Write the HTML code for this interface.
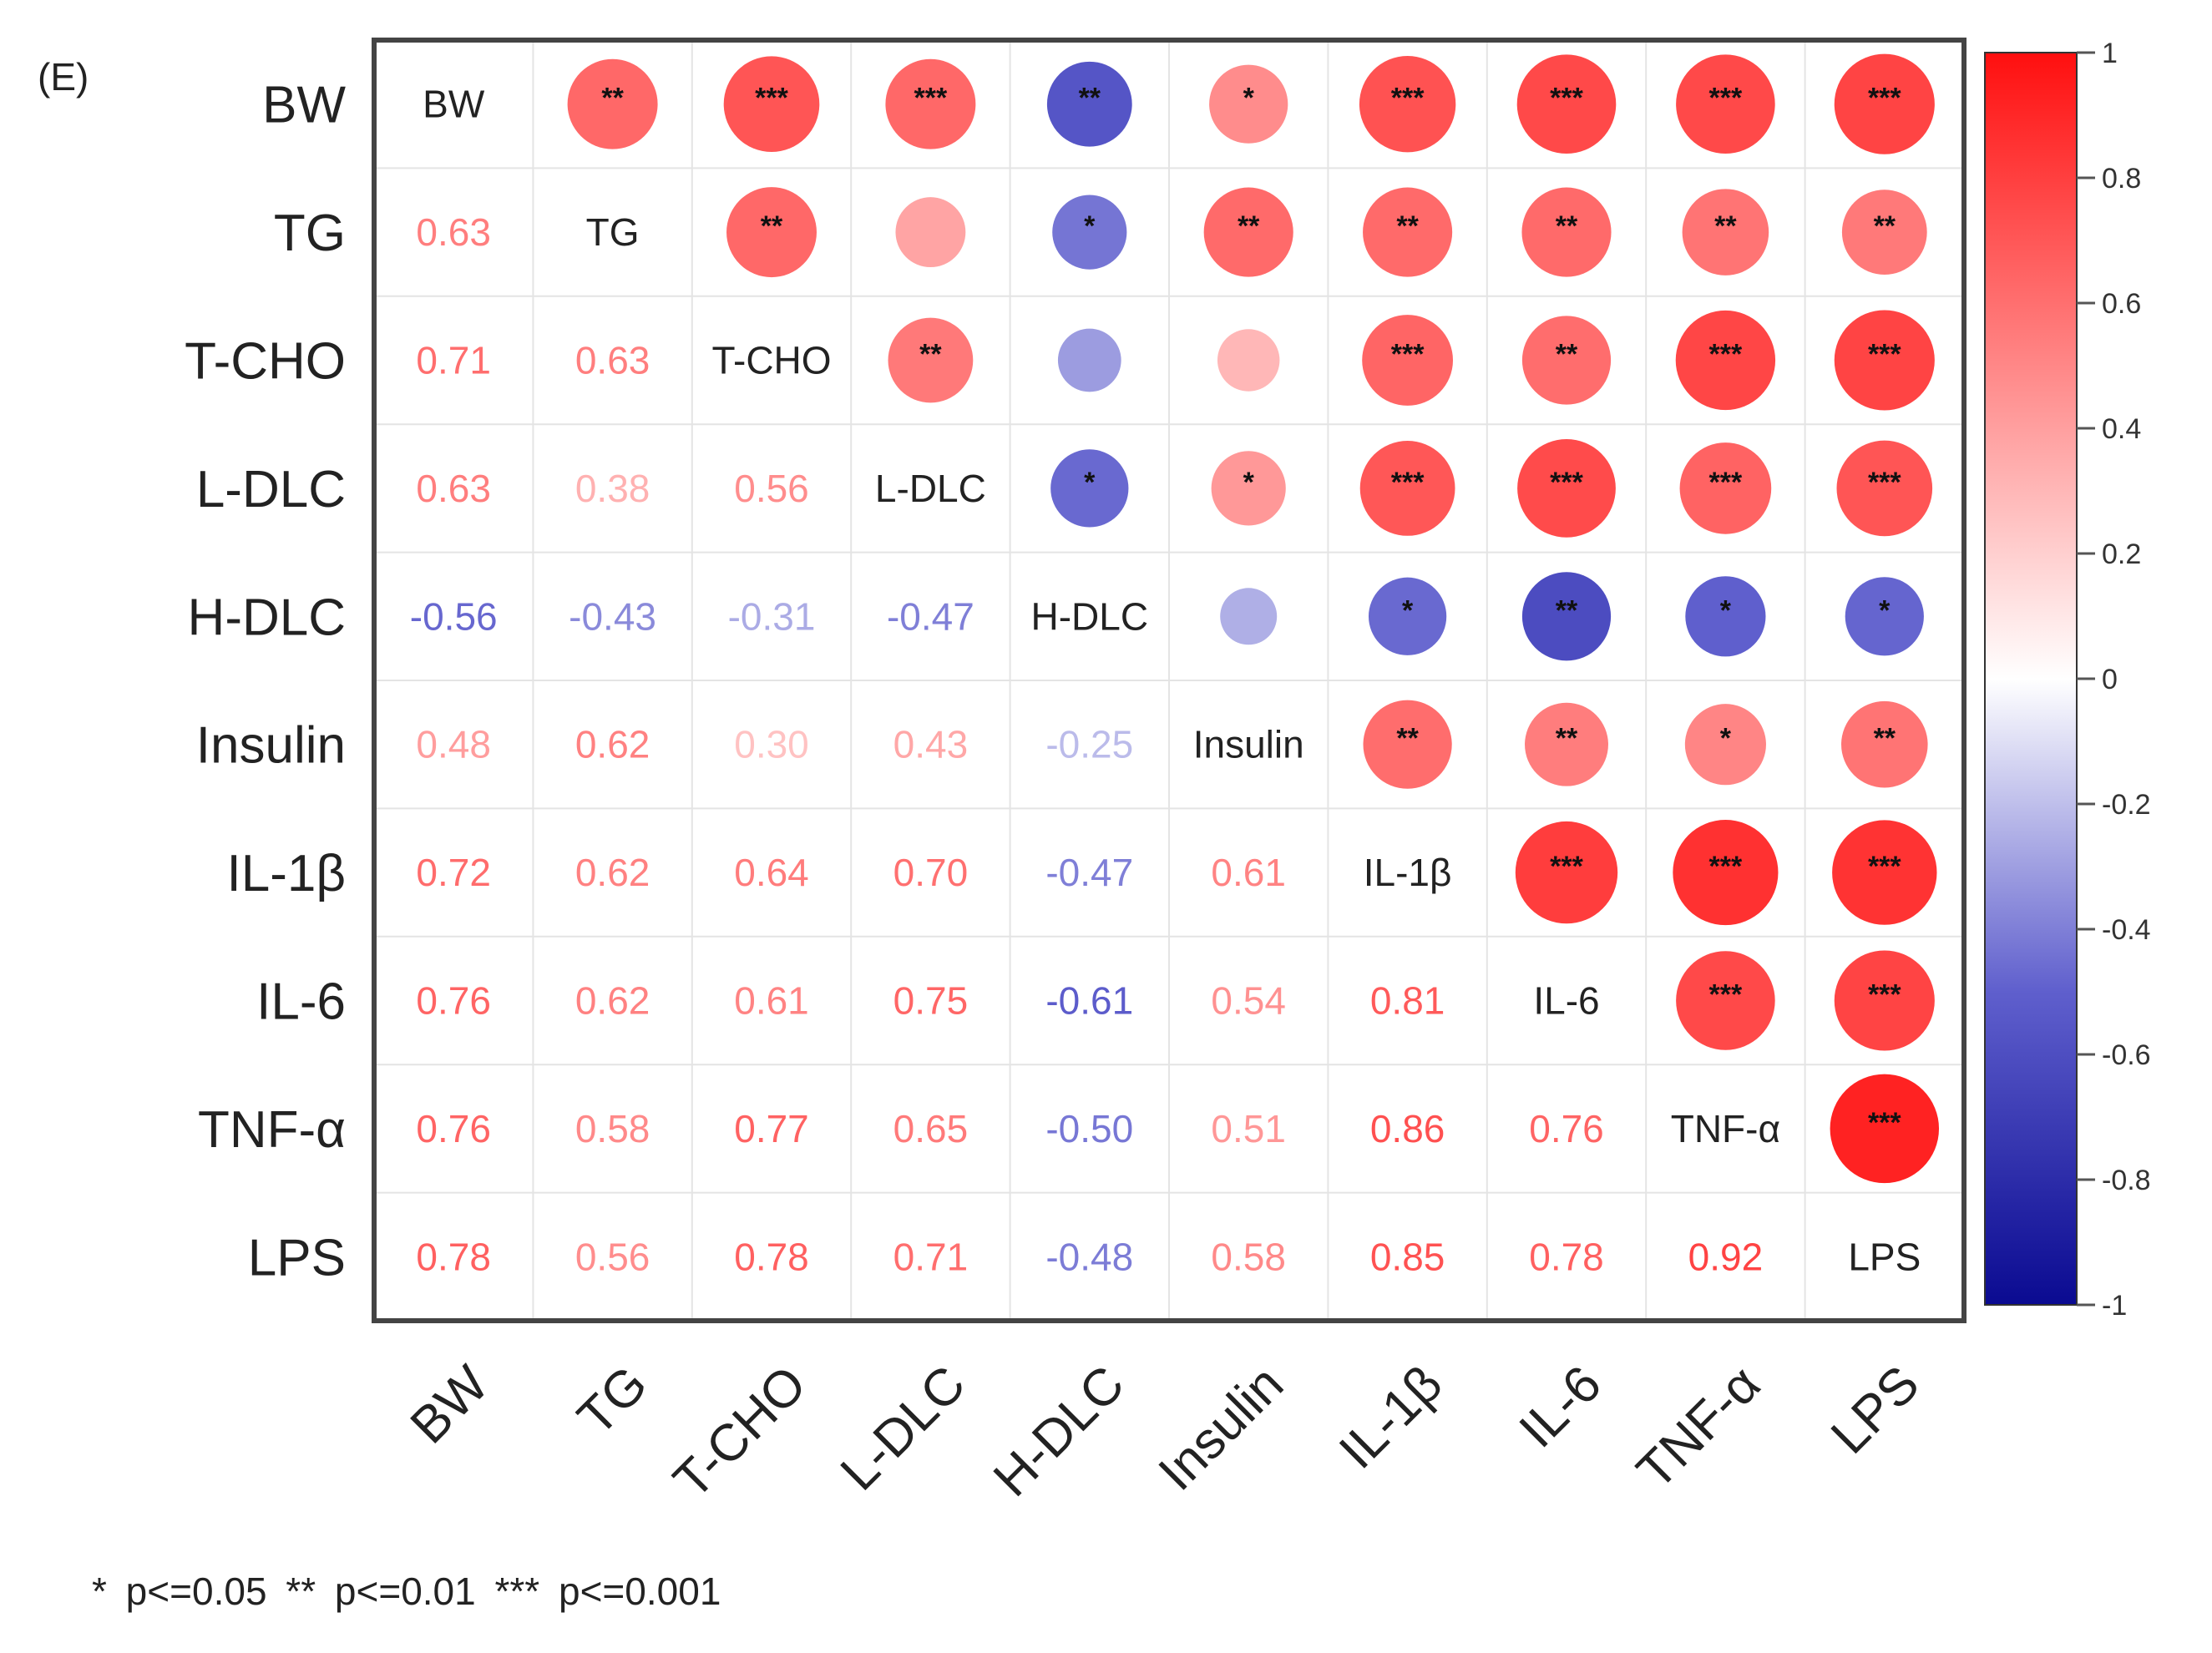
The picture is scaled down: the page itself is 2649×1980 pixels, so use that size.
<!DOCTYPE html>
<html><head><meta charset="utf-8"><style>
html,body{margin:0;padding:0;background:#fff;}
svg{display:block;font-family:"Liberation Sans",sans-serif;}
</style></head><body>
<svg id="chart" width="2649" height="1980" viewBox="0 0 2649 1980">
<text x="45" y="108" font-size="46" fill="#222">(E)</text>
<g id="cells"></g>
<rect x="448" y="48" width="1904" height="1534" fill="none" stroke="#444" stroke-width="6"/>
<g id="colorbar"></g>
<text x="110" y="1922" font-size="46" fill="#222" word-spacing="10">* p&lt;=0.05  ** p&lt;=0.01  *** p&lt;=0.001</text>
</svg>
<script>
const labels = ["BW","TG","T-CHO","L-DLC","H-DLC","Insulin","IL-1β","IL-6","TNF-α","LPS"];
const lower = [
 [],
 [0.63],
 [0.71,0.63],
 [0.63,0.38,0.56],
 [-0.56,-0.43,-0.31,-0.47],
 [0.48,0.62,0.30,0.43,-0.25],
 [0.72,0.62,0.64,0.70,-0.47,0.61],
 [0.76,0.62,0.61,0.75,-0.61,0.54,0.81],
 [0.76,0.58,0.77,0.65,-0.50,0.51,0.86,0.76],
 [0.78,0.56,0.78,0.71,-0.48,0.58,0.85,0.78,0.92]
];
const stars = [
 ["","**","***","***","**","*","***","***","***","***"],
 ["","","**","","*","**","**","**","**","**"],
 ["","","","**","","","***","**","***","***"],
 ["","","","","*","*","***","***","***","***"],
 ["","","","","","","*","**","*","*"],
 ["","","","","","","**","**","*","**"],
 ["","","","","","","","***","***","***"],
 ["","","","","","","","","***","***"],
 ["","","","","","","","","","***"],
 ["","","","","","","","","",""]
];
const cbTicks = [1,0.8,0.6,0.4,0.2,0,-0.2,-0.4,-0.6,-0.8,-1];

const NS="http://www.w3.org/2000/svg";
const X0=448,Y0=48,CW=190.4,CH=153.4;
const cx=j=>X0+CW*(j+0.5), cy=i=>Y0+CH*(i+0.5);
const CB={x:2377,w:110,top:63,bot:1563};
const cbY=v=>CB.top+(1-v)/2*(CB.bot-CB.top);
function color(v){
  let r,g,b;
  if(v>=0){const t=Math.min(v,1);r=255;g=Math.round(255-240*t);b=Math.round(255-240*t);}
  else{const t=Math.min(-v,1);
    if(t<0.5){const u=t/0.5;r=Math.round(255-(255-95)*u);g=Math.round(255-(255-95)*u);b=Math.round(255-(255-205)*u);}
    else{const u=(t-0.5)/0.5;r=Math.round(95-85*u);g=Math.round(95-85*u);b=Math.round(205-60*u);}
  }
  return `rgb(${r},${g},${b})`;
}
function el(tag,attrs,parent){const e=document.createElementNS(NS,tag);for(const k in attrs)e.setAttribute(k,attrs[k]);parent.appendChild(e);return e;}
const svg=document.getElementById('chart');
const cells=document.getElementById('cells');
for(let k=1;k<10;k++){
  const v=el('line',{x1:X0+CW*k,x2:X0+CW*k,y1:Y0,y2:Y0+CH*10,stroke:'#e4e4e4','stroke-width':2},cells);
  
  
  const h=el('line',{x1:X0,x2:X0+CW*10,y1:Y0+CH*k,y2:Y0+CH*k,stroke:'#e4e4e4','stroke-width':2},cells);
  
  
}
const val=(i,j)=> i>j?lower[i][j]:lower[j][i];
for(let i=0;i<10;i++){
  const rl=el('text',{x:414,y:cy(i)+22,'font-size':62,'text-anchor':'end',fill:'#222'},svg);
  rl.textContent=labels[i];
  
  
  const xl=el('text',{x:0,y:0,'font-size':62,'text-anchor':'end',fill:'#222',transform:`translate(${cx(i)+45},${1662}) rotate(-45)`},svg);
  xl.textContent=labels[i];
  
  
  for(let j=0;j<10;j++){
    if(i===j){
      const t=el('text',{x:cx(j),y:cy(i)+16,'font-size':46,'text-anchor':'middle',fill:'#222'},cells);
      t.textContent=labels[i];
      
      
    } else if(i>j){
      const v=val(i,j);
      const t=el('text',{x:cx(j),y:cy(i)+16,'font-size':46,'text-anchor':'middle',fill:color(v*0.85)},cells);
      t.textContent=v.toFixed(2);
      
      
    } else {
      const v=val(i,j);
      const c=el('circle',{cx:cx(j),cy:cy(i),r:68*Math.sqrt(Math.abs(v)),fill:color(v)},cells);
      
      
      if(stars[i][j]){
        const s=el('text',{x:cx(j),y:cy(i)+4,'font-size':34,'font-weight':'bold','text-anchor':'middle',fill:'#111'},cells);
        s.textContent=stars[i][j];
        
        
      }
    }
  }
}
const cb=document.getElementById('colorbar');
const defs=el('defs',{},cb);
const grad=el('linearGradient',{id:'cbg',x1:0,y1:0,x2:0,y2:1},defs);
for(let k=0;k<=40;k++){const v=1-k/20;el('stop',{offset:(k/40),'stop-color':color(v)},grad);}
const bar=el('rect',{x:CB.x,y:CB.top,width:CB.w,height:CB.bot-CB.top,fill:'url(#cbg)',stroke:'#333','stroke-width':2},cb);


cbTicks.forEach(v=>{
  const y=cbY(v);
  const tk=el('line',{x1:CB.x+CB.w,x2:CB.x+CB.w+22,y1:y,y2:y,stroke:'#555','stroke-width':3},cb);
  
  
  const t=el('text',{x:CB.x+CB.w+30,y:y+12,'font-size':34,fill:'#333'},cb);
  t.textContent=(v===1||v===0||v===-1)?String(v):v.toFixed(1);
  
  
});
</script>
</body></html>
